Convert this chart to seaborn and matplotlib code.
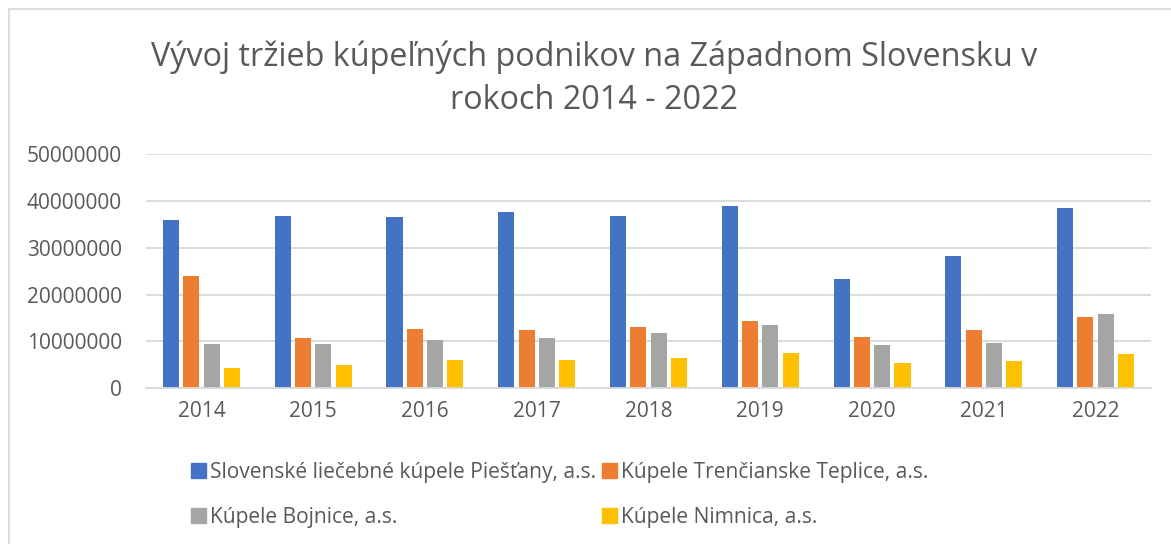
import pandas as pd
import numpy as np
import matplotlib.pyplot as plt
import seaborn as sns
from matplotlib.patches import Patch
from matplotlib.ticker import FuncFormatter

years = ["2014", "2015", "2016", "2017", "2018", "2019", "2020", "2021", "2022"]
companies = [
    "Slovenské liečebné kúpele Piešťany, a.s.",
    "Kúpele Trenčianske Teplice, a.s.",
    "Kúpele Bojnice, a.s.",
    "Kúpele Nimnica, a.s.",
]
piestany = [35850000, 36840000, 36490000, 37550000, 36770000, 38900000, 23260000, 28310000, 38480000]
trencianske = [23970000, 10810000, 12660000, 12450000, 13020000, 14370000, 11020000, 12450000, 15150000]
bojnice = [9530000, 9460000, 10240000, 10810000, 11740000, 13510000, 9170000, 9740000, 15860000]
nimnica = [4340000, 4980000, 5970000, 6050000, 6470000, 7470000, 5480000, 5760000, 7250000]
colors = ["#4472C4", "#ED7D31", "#A5A5A5", "#FFC000"]

df = pd.DataFrame({
    "rok": years * 4,
    "firma": np.repeat(companies, len(years)),
    "trzby": piestany + trencianske + bojnice + nimnica,
})

sns.set_style("white")
plt.rcParams["font.family"] = ["Open Sans", "DejaVu Sans"]
text_col = "#595959"

fig = plt.figure(figsize=(11.71, 5.44), dpi=100)
ax = fig.add_axes([0.1243, 0.2862, 0.859, 0.4307])

sns.barplot(data=df, x="rok", y="trzby", hue="firma", palette=colors, saturation=1,
            width=0.727, gap=0.21, linewidth=0, legend=False, ax=ax)

ax.set_ylim(0, 50000000)
ax.set_yticks(np.arange(0, 50000001, 10000000))
ax.yaxis.set_major_formatter(FuncFormatter(lambda v, p: f"{int(v)}"))
ax.grid(axis="y", color="#D9D9D9", linewidth=1.3)
ax.set_axisbelow(True)
for side in ["top", "right", "left"]:
    ax.spines[side].set_visible(False)
ax.spines["bottom"].set_color("#D9D9D9")
ax.spines["bottom"].set_linewidth(1.3)
ax.tick_params(axis="both", length=0, labelsize=15, labelcolor=text_col)
ax.tick_params(axis="y", pad=17)
ax.tick_params(axis="x", pad=9)
ax.set_xlabel("")
ax.set_ylabel("")

fig.text(0.507, 0.855, "Vývoj tržieb kúpeľných podnikov na Západnom Slovensku v\nrokoch 2014 - 2022",
         ha="center", va="center", fontsize=23.3, color=text_col, linespacing=1.4)

# legend in row order
handles = [Patch(color=c) for c in colors]
order = [0, 2, 1, 3]
leg = fig.legend([handles[i] for i in order], [companies[i] for i in order],
                 ncol=2, loc="center left", bbox_to_anchor=(0.147, 0.09),
                 frameon=False, fontsize=15.1, handlelength=0.7, handleheight=0.7,
                 handletextpad=0.2, columnspacing=0.3, labelspacing=1.15)
for t in leg.get_texts():
    t.set_color(text_col)

# chart border
fig.add_artist(plt.Line2D([9 / 1171, 9 / 1171], [0, 1 - 9 / 544], color="#D9D9D9", linewidth=1.3))
fig.add_artist(plt.Line2D([9 / 1171, 1], [1 - 9 / 544, 1 - 9 / 544], color="#D9D9D9", linewidth=1.3))

fig.savefig("out.png", dpi=100)
